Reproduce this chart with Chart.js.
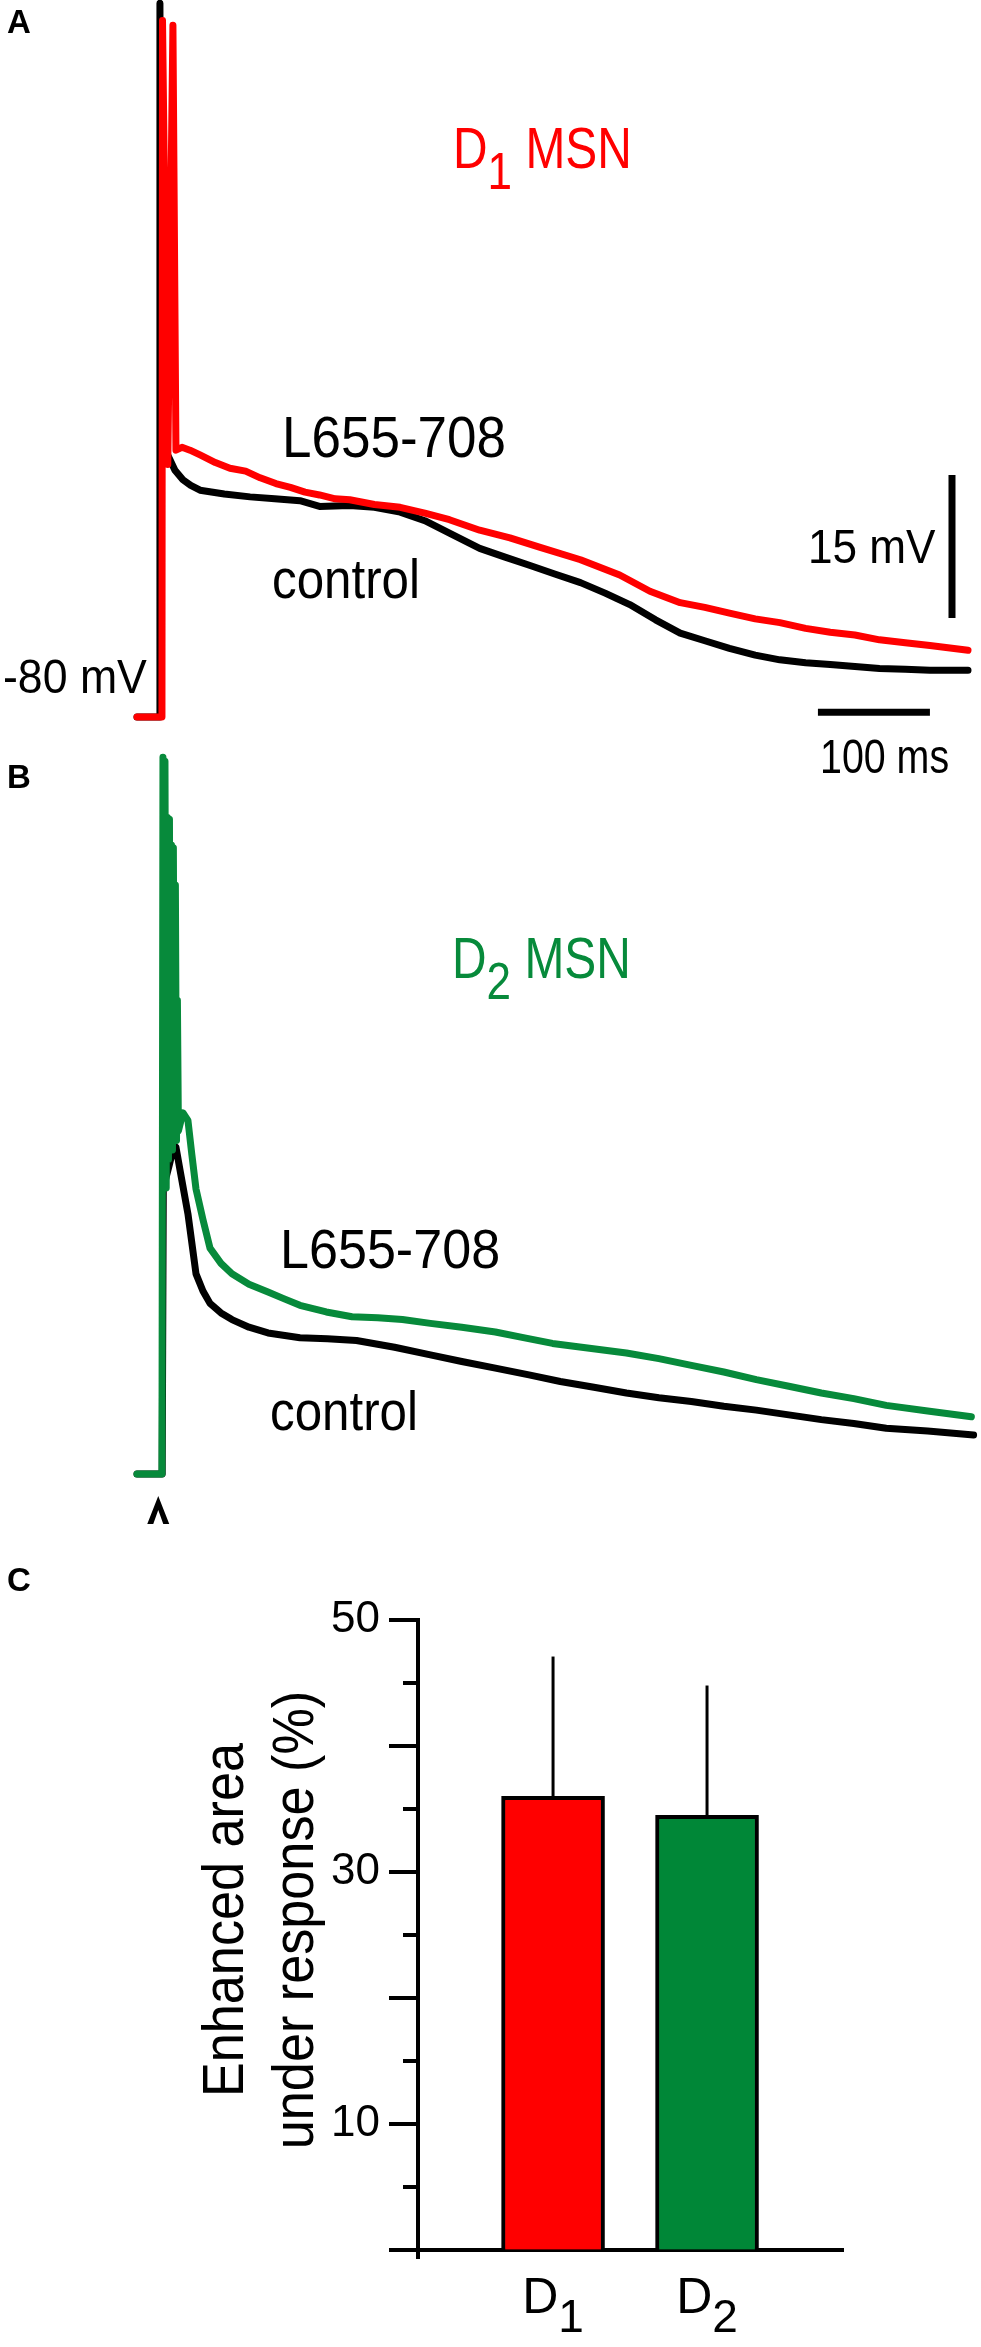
<!DOCTYPE html>
<html>
<head>
<meta charset="utf-8">
<script src="https://cdn.jsdelivr.net/npm/chart.js@4.4.1/dist/chart.umd.min.js"></script>
<style>
  html, body { margin: 0; padding: 0; background: #fff; }
  #page { position: relative; width: 981px; height: 2347px; overflow: hidden; background: #fff; }
  canvas { position: absolute; left: 0; }
</style>
</head>
<body>
<div id="page">
  <canvas id="traceA" width="981" height="790" style="top:0px"></canvas>
  <canvas id="traceB" width="981" height="800" style="top:740px"></canvas>
  <canvas id="bars" width="981" height="807" style="top:1540px"></canvas>
</div>
<script>
// panel A, D1 MSN: time (ms) and membrane potential (mV)
const tRedA = [0, 22.3, 22.8, 27.5, 32.1, 34.8, 40.2, 47.3, 56.3, 70, 83, 97, 110, 124, 137, 150, 163, 177, 190, 212,
  235, 257, 279, 306, 333, 360, 396, 431, 458, 485, 507, 529, 552, 574, 597, 619, 641, 663, 686, 708, 742];
const vRedA = [-80, -80, -6.9, -53.5, -7.4, -52.0, -51.7, -52.0, -52.5, -53.3, -53.9, -54.2, -54.9, -55.5, -55.9, -56.4, -56.7, -57.1, -57.2, -57.7,
  -58.0, -58.6, -59.3, -60.4, -61.2, -62.2, -63.5, -65.1, -66.8, -68.0, -68.5, -69.1, -69.7, -70.1, -70.7, -71.1, -71.4, -71.9, -72.2, -72.5, -73.0];
const tCtlA = [0, 20.0, 20.5, 21.5, 27.0, 29.5, 33.9, 41, 48, 56.3, 78, 101, 123, 145.5, 163, 190, 212, 235, 257, 279,
  306, 328, 351, 373, 396, 418, 440, 463, 485, 507, 529, 552, 574, 597, 619, 641, 663, 686, 708, 742];
const vCtlA = [-80, -80, -5.1, -50.0, -52.4, -53.0, -54.1, -55.1, -55.7, -56.2, -56.6, -56.9, -57.1, -57.3, -57.9, -57.8, -58.0, -58.5, -59.4, -60.7,
  -62.3, -63.2, -64.1, -65.0, -65.9, -67.0, -68.2, -69.8, -71.2, -72.0, -72.8, -73.5, -74.0, -74.3, -74.5, -74.7, -74.9, -75.0, -75.1, -75.1];

// panel B, D2 MSN (burst of spikes, then slow decay)
const tGrnB = [0, 22.3, 23.2, 24.1, 25.0, 26.1, 27.2, 28.1, 29.0, 29.9, 30.8, 31.7, 32.5, 33.5, 34.3, 35.3, 36.1, 37.0, 41.0, 45.5, 49.0, 52.7,
  58.9, 65.2, 75, 84.8, 100, 117, 131, 145.5, 169, 192, 215, 237, 262, 290, 320, 345, 371, 404, 437, 466, 495, 524, 553, 582, 611, 640, 669, 706, 745];
const vGrnB = [-80, -80, -4.8, -48, -5.2, -50, -11.1, -47, -11.3, -46, -14.0, -46, -14.3, -45, -18.2, -45, -30.3, -44, -42.1, -42.9, -46.5, -50.1,
  -53.3, -56.3, -57.9, -59.0, -60.1, -60.9, -61.6, -62.3, -63.0, -63.5, -63.6, -63.8, -64.2, -64.6, -65.1, -65.7, -66.3, -66.8, -67.3, -67.9, -68.6, -69.3, -70.1, -70.8, -71.5, -72.1, -72.8, -73.4, -74.0];
const tCtlB = [0, 22.5, 23.5, 29.0, 32.1, 34.8, 38.4, 45.5, 52.7, 58.9, 65.2, 75, 84.8, 100, 117, 145.5, 170, 196, 230, 262,
  290, 320, 350, 378, 408, 437, 466, 495, 524, 553, 582, 611, 640, 669, 706, 747];
const vCtlB = [-80, -80, -50.0, -47.5, -46.0, -45.7, -48.1, -52.7, -59.0, -60.8, -62.1, -63.1, -63.8, -64.6, -65.2, -65.7, -65.8, -66.0, -66.7, -67.5,
  -68.2, -68.9, -69.6, -70.3, -70.9, -71.5, -72.0, -72.4, -72.9, -73.3, -73.8, -74.3, -74.7, -75.2, -75.5, -75.9];

// scale bars
const barMs = 100;
const barMv = 15;

// panel C
const categories = ['D1', 'D2'];
const areaMeans = [36.0, 34.5];
const areaSem = [11.1, 10.3];
const yTickLabels = [10, 30, 50];
const yTitle = ['Enhanced area', 'under response (%)'];

const RED = '#ff0000';
const GREEN = '#078a3b';
const BAR_GREEN = '#008737';
const FONT = '"Liberation Sans", Arial, Helvetica, sans-serif';

const pts = (t, v) => t.map((x, i) => ({ x: x, y: v[i] }));

function txt(ctx, s, x, y, size, opts) {
  opts = opts || {};
  const sx = opts.sx || 1;
  ctx.save();
  ctx.font = (opts.bold ? 'bold ' : '') + size + 'px ' + FONT;
  ctx.fillStyle = opts.color || '#000';
  ctx.textBaseline = 'alphabetic';
  ctx.textAlign = 'left';
  ctx.translate(x, y);
  ctx.scale(sx, 1);
  ctx.fillText(s, 0, 0);
  const w = ctx.measureText(s).width * sx;
  ctx.restore();
  return w;
}

function textWidth(ctx, s, size, sx) {
  ctx.save();
  ctx.font = size + 'px ' + FONT;
  const w = ctx.measureText(s).width * (sx || 1);
  ctx.restore();
  return w;
}

// "D" + lowered subscript + rest
function subLabel(ctx, label, rest, x, y, size, color, sx) {
  let w = txt(ctx, label[0], x, y, size, { color: color, sx: sx });
  w += txt(ctx, label.slice(1), x + w, y + size * 0.37, size * 0.92, { color: color, sx: sx });
  if (rest) txt(ctx, rest, x + w, y, size, { color: color, sx: sx });
}

function traceChart(id, datasets, yMin, yMax, extras) {
  return new Chart(document.getElementById(id), {
    type: 'line',
    data: { datasets: datasets },
    options: {
      responsive: false,
      animation: false,
      events: [],
      layout: { padding: 0 },
      plugins: { legend: { display: false }, tooltip: { enabled: false } },
      scales: {
        x: { type: 'linear', display: false, min: -122.3, max: 753.6 },
        y: { type: 'linear', display: false, min: yMin, max: yMax }
      },
      elements: {
        point: { radius: 0 },
        line: { tension: 0, borderJoinStyle: 'round', borderCapStyle: 'round' }
      }
    },
    plugins: [extras]
  });
}

const extrasA = {
  id: 'extrasA',
  afterDraw(chart) {
    const { ctx, scales: { x, y } } = chart;
    ctx.save();
    ctx.strokeStyle = '#000';
    ctx.lineWidth = 7;
    const bx = x.getPixelForValue(727.7);
    ctx.beginPath();
    ctx.moveTo(bx, y.getPixelForValue(-69.6));
    ctx.lineTo(bx, y.getPixelForValue(-69.6 + barMv));
    ctx.stroke();
    const by = y.getPixelForValue(-79.5);
    ctx.beginPath();
    ctx.moveTo(x.getPixelForValue(608), by);
    ctx.lineTo(x.getPixelForValue(608 + barMs), by);
    ctx.stroke();
    ctx.restore();

    txt(ctx, 'A', 7, 33, 33, { bold: true });
    subLabel(ctx, 'D1', ' MSN', 453, 168, 57, RED, 0.84);
    txt(ctx, 'L655-708', 282, 457, 57, { sx: 0.93 });
    txt(ctx, 'control', 272, 598, 56, { sx: 0.88 });
    txt(ctx, barMv + ' mV', 808, 563, 49, { sx: 0.9 });
    txt(ctx, '-80 mV', 3, 693, 48, { sx: 0.93 });
    txt(ctx, barMs + ' ms', 820, 773, 48, { sx: 0.82 });
  }
};

const extrasB = {
  id: 'extrasB',
  afterDraw(chart) {
    const { ctx, scales: { x } } = chart;
    const top = 740;
    txt(ctx, 'B', 7, 788 - top, 33, { bold: true });
    subLabel(ctx, 'D2', ' MSN', 452, 978 - top, 57, GREEN, 0.84);
    txt(ctx, 'L655-708', 280, 1268 - top, 56, { sx: 0.93 });
    txt(ctx, 'control', 270, 1430 - top, 56, { sx: 0.88 });
    // stimulus arrowhead
    const ax = x.getPixelForValue(19);
    ctx.save();
    ctx.fillStyle = '#000';
    ctx.beginPath();
    ctx.moveTo(ax, 1496 - top);
    ctx.lineTo(ax + 11, 1524 - top);
    ctx.lineTo(ax + 5, 1524 - top);
    ctx.lineTo(ax, 1510 - top);
    ctx.lineTo(ax - 5, 1524 - top);
    ctx.lineTo(ax - 11, 1524 - top);
    ctx.closePath();
    ctx.fill();
    ctx.restore();
  }
};

traceChart('traceA', [
  { data: pts(tRedA, vRedA), borderColor: RED, borderWidth: 7, clip: false },
  { data: pts(tCtlA, vCtlA), borderColor: '#000', borderWidth: 7, clip: false }
], -87.66, -4.76, extrasA);

traceChart('traceB', [
  { data: pts(tGrnB, vGrnB), borderColor: GREEN, borderWidth: 7, clip: false },
  { data: pts(tCtlB, vCtlB), borderColor: '#000', borderWidth: 7, clip: false }
], -86.93, -2.98, extrasB);

const barExtras = {
  id: 'barExtras',
  afterDatasetsDraw(chart) {
    const { ctx, chartArea, scales: { x, y } } = chart;
    ctx.save();
    ctx.strokeStyle = '#000';
    // error bars (upward only)
    ctx.lineWidth = 3;
    areaMeans.forEach((m, i) => {
      const px = x.getPixelForValue(i + 1);
      ctx.beginPath();
      ctx.moveTo(px, y.getPixelForValue(m));
      ctx.lineTo(px, y.getPixelForValue(m + areaSem[i]));
      ctx.stroke();
    });
    // tick marks: long at multiples of 10, short in between
    ctx.lineWidth = 4;
    const ax = chartArea.left;
    y.ticks.forEach(t => {
      const py = y.getPixelForValue(t.value);
      const len = t.value % 10 === 0 ? 29 : 15;
      ctx.beginPath();
      ctx.moveTo(ax - len, py);
      ctx.lineTo(ax, py);
      ctx.stroke();
    });
    ctx.beginPath();
    ctx.moveTo(ax, chartArea.bottom);
    ctx.lineTo(ax, chartArea.bottom + 9);
    ctx.stroke();
    ctx.restore();

    // category labels with subscripts
    categories.forEach((c, i) => {
      const cx = x.getPixelForValue(i + 1);
      const w = textWidth(ctx, c[0], 50) + textWidth(ctx, c.slice(1), 46);
      subLabel(ctx, c, '', cx - w / 2, chartArea.bottom + 63, 50, '#000', 1);
    });

    // rotated y title, two lines
    const cy = (chartArea.top + chartArea.bottom) / 2 - 15;
    [243, 313].forEach((bx, i) => {
      ctx.save();
      ctx.font = '58px ' + FONT;
      ctx.fillStyle = '#000';
      ctx.textAlign = 'center';
      ctx.textBaseline = 'alphabetic';
      ctx.translate(bx, cy);
      ctx.rotate(-Math.PI / 2);
      ctx.scale(0.9, 1);
      ctx.fillText(yTitle[i], 0, 0);
      ctx.restore();
    });

    txt(ctx, 'C', 7, 1591 - 1540, 33, { bold: true });
  }
};

new Chart(document.getElementById('bars'), {
  type: 'bar',
  data: {
    datasets: [{
      data: categories.map((c, i) => ({ x: i + 1, y: areaMeans[i] })),
      backgroundColor: [RED, BAR_GREEN],
      borderColor: '#000',
      borderWidth: 4,
      barThickness: 103
    }]
  },
  options: {
    responsive: false,
    animation: false,
    events: [],
    layout: { padding: { left: 0, right: 138, top: 80, bottom: 97 } },
    plugins: { legend: { display: false }, tooltip: { enabled: false } },
    scales: {
      x: {
        type: 'linear',
        min: 0.123,
        max: 2.883,
        offset: false,
        ticks: { display: false },
        grid: { display: true, drawOnChartArea: false, drawTicks: false, color: 'rgba(0,0,0,0)', offset: false },
        border: { display: true, color: '#000', width: 4 },
        afterFit(scale) { scale.height = 0; }
      },
      y: {
        min: 0,
        max: 50,
        ticks: {
          stepSize: 5,
          autoSkip: false,
          padding: 38,
          color: '#000',
          font: { family: FONT, size: 44 },
          callback: v => (yTickLabels.includes(v) ? String(v) : '')
        },
        grid: { display: true, drawOnChartArea: false, drawTicks: false, color: 'rgba(0,0,0,0)' },
        border: { display: true, color: '#000', width: 4 },
        afterFit(scale) { scale.width = 418; }
      }
    }
  },
  plugins: [barExtras]
});
</script>
</body>
</html>
